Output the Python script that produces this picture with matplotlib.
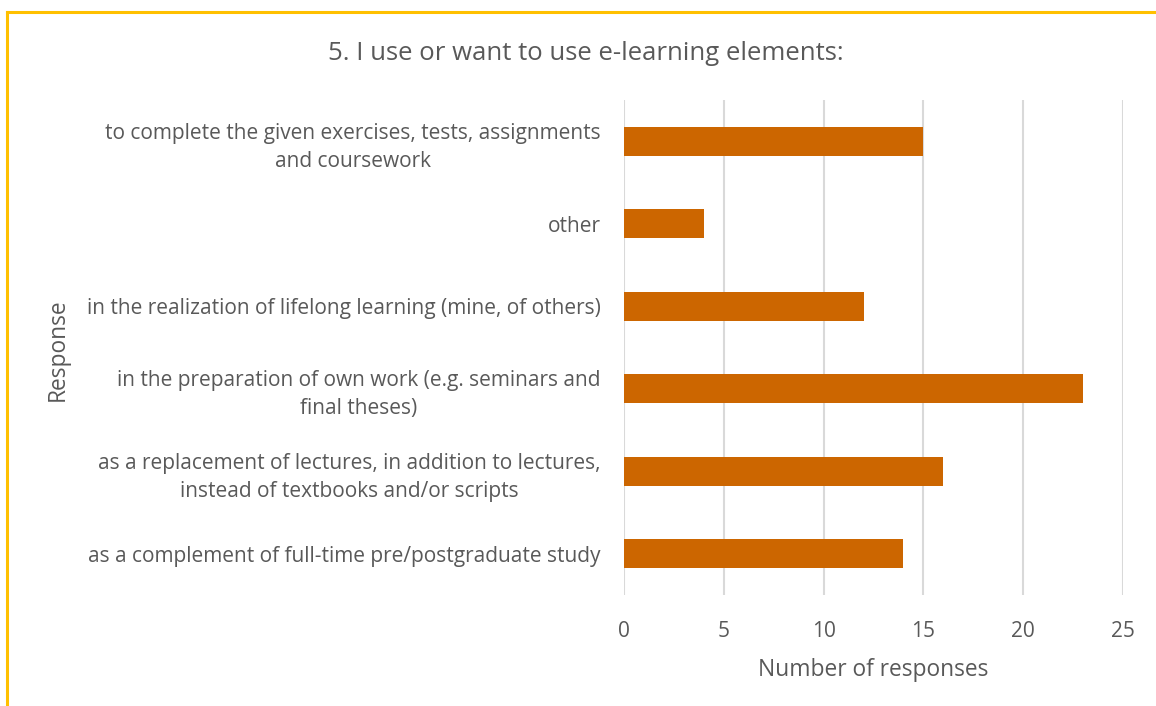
import matplotlib.pyplot as plt
from matplotlib.lines import Line2D

categories = [
    "as a complement of full-time pre/postgraduate study",
    "as a replacement of lectures, in addition to lectures,\ninstead of textbooks and/or scripts",
    "in the preparation of own work (e.g. seminars and\nfinal theses)",
    "in the realization of lifelong learning (mine, of others)",
    "other",
    "to complete the given exercises, tests, assignments\nand coursework",
]
responses = [14, 16, 23, 12, 4, 15]
x_ticks = [0, 5, 10, 15, 20, 25]

text_color = "#595959"
plt.rcParams['font.family'] = ['Open Sans', 'DejaVu Sans']

fig = plt.figure(figsize=(11.56, 7.06), dpi=100)
ax = fig.add_axes([624/1156, 1 - 595/706, (1123 - 624)/1156, (595 - 100)/706])

ax.barh(range(len(categories)), responses, height=0.35, color="#CC6600", zorder=3)
ax.set_ylim(-0.5, len(categories) - 0.5)
ax.set_xlim(0, 25)
ax.set_xticks(x_ticks)
ax.set_yticks(range(len(categories)))
ax.set_yticklabels(categories, multialignment='center', linespacing=1.45)
ax.grid(axis='x', color="#d9d9d9", linewidth=1.5, zorder=0)
for s in ax.spines.values():
    s.set_visible(False)
ax.tick_params(axis='both', length=0, labelsize=15, colors=text_color)
ax.tick_params(axis='y', pad=17)
ax.tick_params(axis='x', pad=19)

ax.set_xlabel("Number of responses", fontsize=16.4, color=text_color, labelpad=11)
fig.text(58/1156, 1 - 350/706, "Response", rotation=90, fontsize=16.4,
         color=text_color, ha='center', va='center')
fig.text(586/1156, 1 - 53/706, "5. I use or want to use e-learning elements:",
         fontsize=18.5, color=text_color, ha='center', va='center')

# frame lines (top and left)
fig.add_artist(Line2D([7/1156, 1], [1 - 12/706, 1 - 12/706], color="#FFC000", linewidth=2.2,
                      transform=fig.transFigure))
fig.add_artist(Line2D([7/1156, 7/1156], [0, 1 - 12/706], color="#FFC000", linewidth=2.2,
                      transform=fig.transFigure))

fig.savefig("out.png", dpi=100)
